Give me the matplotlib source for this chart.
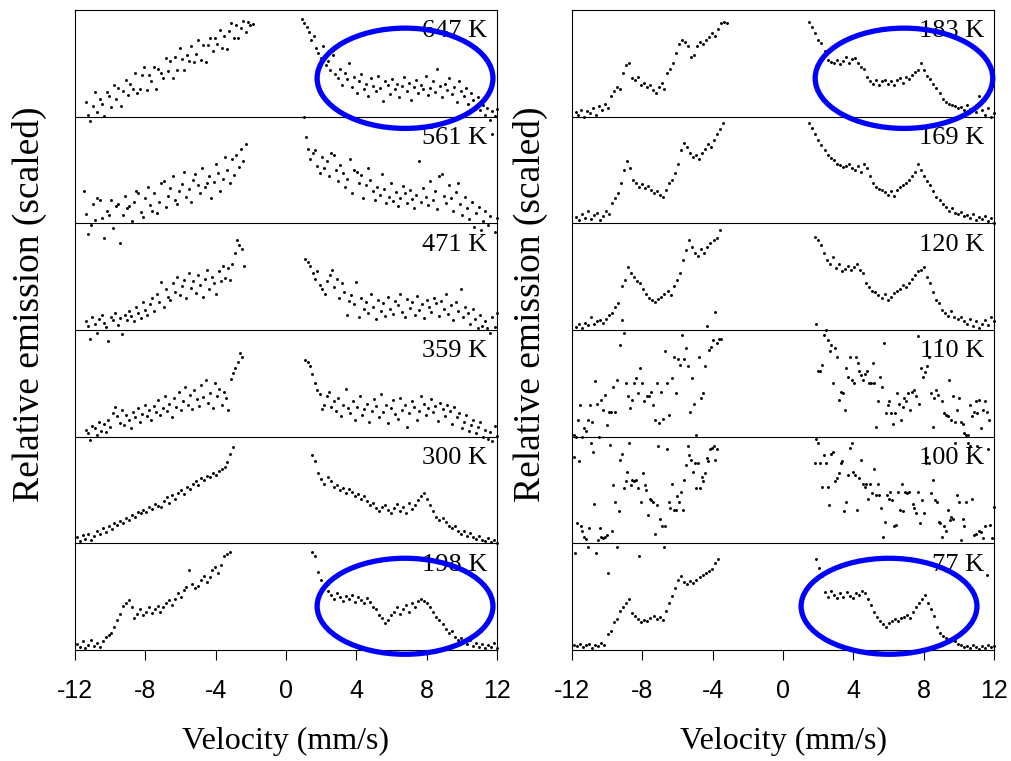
#!/usr/bin/env python3
"""Stacked emission spectra vs velocity at several temperatures (two panels)."""

import matplotlib.pyplot as plt
import numpy as np
from matplotlib.patches import Ellipse

plt.rcParams["font.family"] = ["Liberation Sans", "DejaVu Sans"]
SERIF = ["Liberation Serif", "DejaVu Serif"]

VEL_LIM = (-12, 12)
VEL_TICKS = [-12, -8, -4, 0, 4, 8, 12]

# ---------------------------------------------------------------------------
# Data: values are % of one strip height (0 = strip baseline, 100 = strip top)
# Each strip has a negative-velocity branch and a positive-velocity branch.
# ---------------------------------------------------------------------------
# Left panel, top to bottom
T647_NEG_RANGE = (-11.4, -1.9)
T647_NEG = [14, 2, -4, 10, 23, 4, 17, 12, 1, 23, 19, 9, 30, 17, 27, 10, 24, 34, 20, 31,
            26, 41, 22, 26, 39, 47, 25, 39, 33, 47, 26, 45, 41, 36, 55, 43, 52, 36, 56, 44,
            64, 54, 44, 58, 52, 66, 51, 59, 72, 53, 67, 51, 67, 74, 62, 74, 68, 81, 64, 76,
            63, 80, 88, 74, 86, 74, 83, 90, 79, 89, 86, 87]
T647_POS_RANGE = (0.9, 12.0)
T647_POS = [92, 88, 84, 79, 72, 76, 64, 60, 55, 66, 48, 52, 44, 58, 40, 36, 45, 30, 41, 35,
            50, 28, 37, 22, 33, 40, 26, 31, 19, 36, 29, 24, 38, 27, 15, 33, 30, 21, 35, 26,
            31, 18, 29, 37, 24, 32, 16, 28, 34, 22, 30, 26, 38, 20, 27, 33, 23, 45, 29, 18,
            31, 25, 36, 21, 28, 14, 33, 24, 19, 27, 12, 22, 16, 9, 18, 6, 11, 2, 8, -3,
            5, 1, 7]

T561_NEG_RANGE = (-11.5, -2.3)
T561_NEG = [30, 9, -10, -2, 18, 3, 24, 22, 5, -14, 12, 8, 22, -4, 16, 18, -18, 8, 26, 14,
            16, 2, 20, 30, 28, 11, 6, 24, 34, 17, 12, 28, 10, 20, 38, 40, 15, 26, 33, 44,
            22, 18, 30, 37, 48, 25, 32, 20, 41, 46, 36, 28, 52, 34, 38, 44, 24, 39, 56, 47,
            30, 42, 62, 50, 38, 60, 45, 64, 53, 70, 58, 74]
T561_POS_RANGE = (1.0, 12.0)
T561_POS = [100, 81, 70, 60, 66, 69, 54, 47, 62, 52, 58, 44, 66, 64, 50, 40, 55, 47, 34, 42,
            60, 28, 50, 48, 38, 45, 24, 36, 52, 41, 30, 22, 34, 27, 46, 32, 19, 25, 38, 21,
            29, 16, 24, 35, 28, 19, 31, 23, 14, 27, 58, 20, 33, 25, 17, 40, 22, 30, 13, 44,
            46, 26, 19, 36, 24, 12, 29, 38, 18, 8, 25, 14, 4, 20, -3, 10, 15, -6, 2, 12,
            -2, 7, 84, -8, 5]

T471_NEG_RANGE = (-11.4, -2.4)
T471_NEG = [8, 4, -8, 12, 6, -3, 10, 14, 7, 3, -10, 12, 9, 16, 5, 11, -4, 14, 9, 18,
            13, 8, 22, 16, 11, 26, 19, 14, 24, 30, 18, 34, 26, 45, 22, 38, 31, 28, 44, 36,
            50, 33, 41, 47, 30, 53, 39, 46, 35, 52, 42, 31, 48, 56, 38, 50, 44, 34, 55, 46,
            60, 49, 58, 47, 62, 72, 84, 80, 76, 60]
T471_POS_RANGE = (1.1, 12.0)
T471_POS = [67, 64, 60, 53, 48, 55, 42, 38, 34, 46, 52, 56, 40, 48, 30, 44, 36, 14, 27, 33,
            24, 45, 12, 30, 20, 26, 16, 34, 22, 10, 28, 18, 25, 13, 31, 20, 15, 27, 23, 34,
            17, 12, 29, 21, 26, 14, 32, 19, 24, 11, 28, 22, 17, 30, 25, 13, 27, 20, 34, 15,
            23, 9, 26, 18, 38, 12, 22, 16, 6, 20, 10, 2, 14, 4, 8, 2, -3, 12, 3, 16]

T359_NEG_RANGE = (-11.4, -2.5)
T359_NEG = [6, 3, -3, 10, 8, 2, 14, 5, 12, 4, 16, 9, 22, 28, 19, 13, 25, 11, 20, 16,
            8, 23, 18, 27, 14, 21, 30, 19, 25, 16, 29, 23, 34, 20, 27, 38, 24, 31, 18, 36,
            28, 42, 25, 33, 47, 30, 39, 26, 44, 35, 29, 48, 37, 53, 32, 41, 27, 50, 38, 45,
            30, 42, 36, 25, 54, 60, 64, 70, 78, 75]
T359_POS_RANGE = (1.1, 12.0)
T359_POS = [72, 70, 66, 59, 50, 44, 40, 26, 30, 38, 42, 28, 33, 24, 36, 19, 30, 45, 27, 22,
            33, 16, 28, 38, 20, 26, 31, 14, 24, 35, 29, 18, 40, 23, 30, 13, 27, 34, 21, 17,
            36, 25, 30, 9, 22, 33, 28, 16, 24, 38, 31, 20, 27, 35, 23, 29, 15, 32, 26, 19,
            30, 24, 12, 28, 18, 22, 8, 14, 20, 5, 11, 16, 3, 9, 14, 0, 6, -2, 4, -4,
            10, 1]

T300_NEG_RANGE = (-11.9, -3.0)
T300_NEG = [6, 2, 8, 4, 9, 3, 7, 12, 9, 14, 11, 16, 13, 19, 17, 21, 19, 24, 22, 27,
            25, 29, 28, 31, 29, 34, 32, 37, 35, 34, 40, 43, 38, 45, 42, 47, 50, 46, 53, 51,
            56, 58, 55, 61, 59, 63, 62, 66, 64, 68, 70, 72, 76, 84, 90]
T300_POS_RANGE = (1.5, 12.0)
T300_POS = [83, 77, 66, 60, 56, 62, 58, 53, 55, 50, 52, 47, 51, 48, 44, 46, 42, 44, 40, 36,
            38, 33, 30, 34, 36, 31, 28, 33, 37, 30, 34, 28, 38, 32, 36, 41, 44, 47, 42, 36,
            30, 25, 22, 24, 20, 16, 14, 16, 12, 9, 12, 7, 10, 6, 4, 7, 3, 2, 5, 1,
            3, 0]

T198_NEG_RANGE = (-11.9, -3.2)
T198_NEG = [6, 3, 8, 2, 5, 9, 4, 7, 3, 8, 12, 14, 16, 22, 28, 34, 41, 44, 47, 40,
            30, 34, 38, 33, 36, 40, 35, 38, 41, 36, 40, 44, 47, 42, 48, 53, 50, 56, 59, 75,
            62, 58, 60, 66, 69, 64, 68, 75, 78, 72, 80, 88, 90, 92]
T198_POS_RANGE = (1.5, 12.0)
T198_POS = [92, 88, 73, 66, 59, 55, 52, 48, 53, 50, 46, 51, 48, 52, 45, 50, 47, 44, 49, 45,
            40, 38, 33, 30, 25, 28, 33, 36, 40, 34, 38, 42, 36, 44, 40, 46, 48, 46, 44, 40,
            36, 31, 28, 24, 20, 16, 18, 12, 9, 11, 8, 6, 9, 4, 7, 3, 6, 2, 5, 3,
            7, 2]

# Right panel, top to bottom
T183_NEG_RANGE = (-11.8, -3.2)
T183_NEG = [4, 2, 6, 0, 5, 3, 8, 2, 10, 6, 12, 8, 19, 24, 28, 26, 41, 48, 50, 36,
            34, 37, 30, 32, 28, 30, 25, 22, 28, 32, 26, 41, 45, 50, 60, 68, 72, 70, 66, 56,
            58, 66, 70, 68, 72, 75, 78, 76, 82, 88, 89, 88]
T183_POS_RANGE = (1.5, 12.0)
T183_POS = [89, 84, 78, 72, 69, 62, 53, 51, 50, 53, 49, 52, 56, 50, 54, 55, 50, 47, 45, 37,
            33, 31, 34, 30, 33, 34, 31, 33, 30, 34, 36, 32, 37, 35, 39, 42, 44, 50, 44, 38,
            35, 31, 27, 22, 17, 14, 12, 11, 10, 8, 9, 6, 11, 7, 8, 4, 19, 6, 2, 8,
            0, 3]

T169_NEG_RANGE = (-11.8, -3.4)
T169_NEG = [6, 3, 9, 5, 12, 4, 8, 10, 3, 7, 12, 9, 19, 24, 28, 38, 50, 58, 52, 41,
            38, 34, 37, 33, 35, 31, 28, 30, 27, 25, 31, 38, 41, 47, 56, 69, 75, 72, 66, 62,
            64, 60, 66, 70, 74, 72, 78, 84, 88, 94]
T169_POS_RANGE = (1.5, 12.0)
T169_POS = [94, 89, 84, 78, 73, 69, 64, 61, 59, 56, 55, 53, 54, 56, 52, 50, 54, 48, 56, 52,
            44, 38, 34, 32, 31, 29, 27, 30, 26, 31, 34, 36, 38, 41, 44, 48, 56, 50, 44, 40,
            36, 30, 25, 22, 18, 15, 12, 14, 10, 9, 11, 7, 8, 5, 9, 3, 6, 4, 7, 2,
            5, 0]

T120_NEG_RANGE = (-11.8, -3.6)
T120_NEG = [3, 6, 2, 7, 5, 12, 6, 8, 9, 7, 10, 14, 16, 22, 25, 41, 47, 59, 53, 50,
            46, 44, 38, 34, 30, 28, 26, 29, 31, 34, 37, 33, 41, 47, 53, 66, 75, 84, 78, 72,
            69, 76, 72, 78, 82, 84, 86, 94]
T120_POS_RANGE = (1.8, 12.0)
T120_POS = [87, 84, 80, 72, 66, 62, 68, 58, 62, 55, 57, 60, 56, 59, 62, 56, 53, 44, 40, 37,
            36, 33, 30, 34, 28, 31, 35, 37, 38, 42, 40, 44, 48, 52, 55, 56, 59, 50, 44, 36,
            28, 25, 19, 16, 13, 18, 12, 10, 12, 8, 6, 10, 4, 8, 2, 6, 9, 5, 12, 8]

T110_NEG_RANGE = (-11.9, -3.5)
T110_NEG = [2, 0, 16, 30, 0, 8, 5, 16, 30, 14, 52, 31, 0, 34, 25, 39, 11, 23, 23, 47,
            23, 53, 86, 109, 97, 50, 38, 27, 34, 50, 55, 41, 64, 50, 33, 38, 38, 42, 30, 16,
            50, 13, 42, 17, 80, 50, 20, 55, 75, 41, 73, 67, 95, 73, 83, 66, 23, 55, 31, 2,
            75, 36, 41, 66, 104, 81, 84, 91, 117, 88, 92, 92]
T110_POS_RANGE = (1.9, 11.7)
T110_POS = [106, 62, 62, 67, 95, 100, 91, 80, 86, 50, 83, 75, 34, 42, 41, 25, 64, 56, 75, 53,
            50, 75, 69, 62, 58, 53, 59, 62, 50, 50, 69, 50, 9, 33, 56, 47, 88, 22, 30, 33,
            22, 12, 22, 41, 31, 16, 28, 36, 33, 41, 25, 42, 44, 38, 94, 31, 64, 56, 61, 66,
            75, 41, 9, 36, 44, 39, 91, 33, 22, 20, 19, 53, 16, 38, 14, 25, 36, 14, 12, 3,
            2, 2, 30, 19, 23, 33, 22, 34, 8, 25, 33, 23, 16]

T100_NEG_RANGE = (-11.9, -3.75)
T100_NEG = [81, -9, 19, 77, 16, 12, 6, 4, -3, 14, 94, 86, 37, -9, 3, 14, 6, 5, 6, 8,
            -28, 92, 12, 55, 39, -3, 30, 78, 84, 52, 58, 67, 94, 55, 59, 58, 59, 52, -12, 39,
            66, 55, 50, 27, 42, 41, 39, 9, 36, 91, 23, 16, -3, 16, 88, 39, 33, 56, 31, 31,
            44, 39, 48, 31, 59, 73, 91, 83, 78, 67, 75, 52, 75, 52, 62, 58, 66, 80, 77, 88,
            89, 91, 78, 88]
T100_POS_RANGE = (1.8, 12.0)
T100_POS = [75, 98, 94, 75, 53, 83, 75, 53, 36, 84, 86, 58, 61, 66, 75, 77, 30, 39, 64, 89,
            94, 67, 64, 31, 61, 78, 56, 53, 56, 42, 56, 47, 70, 45, 56, 45, 33, 6, 20, 45,
            42, 48, 41, 16, 17, 48, 31, 56, 30, 48, 47, 48, -16, 37, 33, 28, 48, 19, 41, 28,
            75, 81, 75, 47, 59, 41, 39, 20, 19, 6, 16, 12, 31, 22, 25, 23, 94, 45, 39, 3,
            23, 16, 39, 94, 91, 42, 8, 9, 91, 12, 11, 5, 16, -30, 88, 17, 5, 34]

T77_NEG_RANGE = (-11.9, -3.7)
T77_NEG = [5, 4, 6, 3, 5, 6, 2, 5, 4, 7, 5, 15, 18, 26, 29, 37, 40, 44, 48, 35,
           32, 29, 26, 28, 27, 30, 32, 29, 31, 28, 37, 44, 51, 58, 66, 69, 64, 62, 65, 63,
           66, 68, 70, 72, 74, 76, 82, 85]
T77_POS_RANGE = (1.9, 12.0)
T77_POS = [85, 77, 69, 54, 50, 55, 52, 49, 53, 50, 54, 51, 49, 53, 52, 55, 53, 48, 42, 36,
           31, 27, 24, 22, 25, 27, 29, 27, 30, 31, 33, 30, 36, 40, 44, 48, 52, 44, 38, 32,
           22, 16, 13, 11, 10, 9, 8, 6, 5, 3, 4, 2, 5, 3, 1, 4, 2, 5, 3, 4]

LEFT_STRIPS = [
    ("647 K", T647_NEG_RANGE, T647_NEG, T647_POS_RANGE, T647_POS),
    ("561 K", T561_NEG_RANGE, T561_NEG, T561_POS_RANGE, T561_POS),
    ("471 K", T471_NEG_RANGE, T471_NEG, T471_POS_RANGE, T471_POS),
    ("359 K", T359_NEG_RANGE, T359_NEG, T359_POS_RANGE, T359_POS),
    ("300 K", T300_NEG_RANGE, T300_NEG, T300_POS_RANGE, T300_POS),
    ("198 K", T198_NEG_RANGE, T198_NEG, T198_POS_RANGE, T198_POS),
]
RIGHT_STRIPS = [
    ("183 K", T183_NEG_RANGE, T183_NEG, T183_POS_RANGE, T183_POS),
    ("169 K", T169_NEG_RANGE, T169_NEG, T169_POS_RANGE, T169_POS),
    ("120 K", T120_NEG_RANGE, T120_NEG, T120_POS_RANGE, T120_POS),
    ("110 K", T110_NEG_RANGE, T110_NEG, T110_POS_RANGE, T110_POS),
    ("100 K", T100_NEG_RANGE, T100_NEG, T100_POS_RANGE, T100_POS),
    ("77 K", T77_NEG_RANGE, T77_NEG, T77_POS_RANGE, T77_POS),
]

# Highlight ellipses: (center velocity, center y in strip units, width, height)
LEFT_ELLIPSES = [(6.77, 5.36, 10.0, 0.94), (6.77, 0.41, 10.0, 0.90)]
RIGHT_ELLIPSES = [(6.88, 5.36, 10.1, 0.94), (6.03, 0.41, 10.0, 0.90)]

ELLIPSE_COLOR = "#0000ff"
AX_RECT_Y = (1 - 650 / 761, 640 / 761)


def draw_panel(ax, strips, ellipses) -> None:
    n = len(strips)
    for k, (label, neg_rng, neg_vals, pos_rng, pos_vals) in enumerate(strips):
        base = n - 1 - k
        for rng, vals in ((neg_rng, neg_vals), (pos_rng, pos_vals)):
            x = np.linspace(rng[0], rng[1], len(vals))
            y = base + np.asarray(vals, dtype=float) / 100.0
            ax.scatter(x, y, s=4.5, color="black", linewidths=0,
                       clip_on=False, zorder=3)
        ax.text(11.45, base + 0.8, label, ha="right", va="center",
                family=SERIF, fontsize=19, zorder=2)
        if k > 0:
            ax.axhline(base + 1, color="black", linewidth=0.8, zorder=1)

    for cx, cy, w, h in ellipses:
        ax.add_patch(Ellipse((cx, cy), w, h, fill=False, edgecolor=ELLIPSE_COLOR,
                             linewidth=3.8, clip_on=False, zorder=5))

    ax.set_xlim(*VEL_LIM)
    ax.set_ylim(0, n)
    ax.set_xticks(VEL_TICKS)
    ax.set_xticklabels([str(t) for t in VEL_TICKS])
    ax.set_yticks([])
    ax.tick_params(axis="x", direction="out", length=7, width=0.8,
                   pad=14, labelsize=18)
    for spine in ax.spines.values():
        spine.set_linewidth(0.8)
        spine.set_color("black")


def main() -> None:
    fig = plt.figure(figsize=(10.11, 7.61), dpi=100)
    ax_l = fig.add_axes([75 / 1011, AX_RECT_Y[0], 422 / 1011, AX_RECT_Y[1]])
    ax_r = fig.add_axes([572 / 1011, AX_RECT_Y[0], 422 / 1011, AX_RECT_Y[1]])

    draw_panel(ax_l, LEFT_STRIPS, LEFT_ELLIPSES)
    draw_panel(ax_r, RIGHT_STRIPS, RIGHT_ELLIPSES)

    for xc in (29 / 1011, 530 / 1011):
        fig.text(xc, 1 - 304 / 761, "Relative emission (scaled)", rotation=90,
                 ha="center", va="center", family=SERIF, fontsize=27)
    for xc in (286 / 1011, 783 / 1011):
        fig.text(xc, 1 - 741 / 761, "Velocity (mm/s)", ha="center", va="center",
                 family=SERIF, fontsize=23)

    fig.savefig("out.png", dpi=100)
    plt.close(fig)


if __name__ == "__main__":
    main()
